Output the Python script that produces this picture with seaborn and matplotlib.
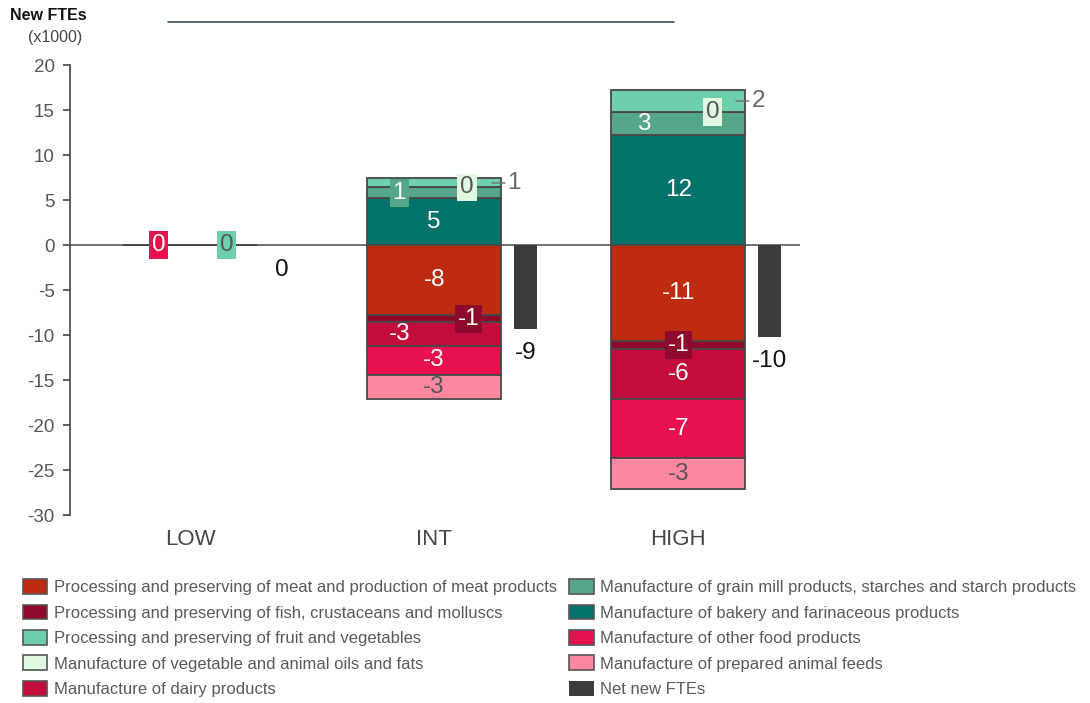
import matplotlib
matplotlib.use("Agg")
import matplotlib.pyplot as plt
import seaborn as sns
from matplotlib.lines import Line2D
from matplotlib.patches import Patch

# data (x1000 FTEs)
categories = ["LOW", "INT", "HIGH"]
meat = [0, -7.8, -10.7]
fish = [0, -0.8, -0.8]
fruit_veg = [0, 1.0, 2.4]
veg_oils = [0, 0.0, 0.0]
dairy = [0, -2.6, -5.6]
grain_mill = [0, 1.2, 2.6]
bakery = [0, 5.2, 12.2]
other_food = [0, -3.2, -6.6]
animal_feeds = [0, -2.7, -3.4]
net_new = [0, -9.3, -10.2]

series = {
    "meat": ("Processing and preserving of meat and production of meat products", meat, "#bd2c10"),
    "fish": ("Processing and preserving of fish, crustaceans and molluscs", fish, "#8e0a2c"),
    "fruit": ("Processing and preserving of fruit and vegetables", fruit_veg, "#6dcfad"),
    "oils": ("Manufacture of vegetable and animal oils and fats", veg_oils, "#e1f8e3"),
    "dairy": ("Manufacture of dairy products", dairy, "#c20c3c"),
    "grain": ("Manufacture of grain mill products, starches and starch products", grain_mill, "#56a68a"),
    "bakery": ("Manufacture of bakery and farinaceous products", bakery, "#02736b"),
    "other": ("Manufacture of other food products", other_food, "#e8104f"),
    "feeds": ("Manufacture of prepared animal feeds", animal_feeds, "#ff87a0"),
}
legend_order = ["meat", "fish", "fruit", "oils", "dairy", "grain", "bakery", "other", "feeds"]
stack_order = ["bakery", "grain", "oils", "fruit", "meat", "fish", "dairy", "other", "feeds"]
light = {"fruit", "oils", "feeds"}
net_color = "#3c3c3c"
edge = "#474747"

# (series, category index, mode, x offset)
labels = [
    ("other", 0, "box", -0.13), ("fruit", 0, "box", 0.15),
    ("bakery", 1, "in", 0), ("grain", 1, "box", -0.143), ("oils", 1, "box", 0.135),
    ("fruit", 1, "out", 0), ("meat", 1, "in", 0), ("fish", 1, "box", 0.14),
    ("dairy", 1, "in", -0.143), ("other", 1, "in", 0), ("feeds", 1, "in", 0),
    ("bakery", 2, "in", 0), ("grain", 2, "in", -0.14), ("oils", 2, "box", 0.14),
    ("fruit", 2, "out", 0), ("meat", 2, "in", 0), ("fish", 2, "box", 0),
    ("dairy", 2, "in", 0), ("other", 2, "in", 0), ("feeds", 2, "in", 0),
]

sns.set_style("white")
plt.rcParams["font.family"] = ["Liberation Sans", "DejaVu Sans"]
plt.rcParams["axes.unicode_minus"] = False

fig = plt.figure(figsize=(10.9, 7.03), dpi=100)
ax = fig.add_axes([0.0642, 0.2674, 0.6700, 0.6401])

x = list(range(len(categories)))
bar_w = 0.55
net_off, net_w = 0.375, 0.094
lab_fs = 17.5

pos_bottom = [0.0] * len(x)
neg_bottom = [0.0] * len(x)
mids = {}
for key in stack_order:
    name, vals, col = series[key]
    bottoms = []
    for i, v in enumerate(vals):
        if v >= 0:
            bottoms.append(pos_bottom[i])
            pos_bottom[i] += v
        else:
            bottoms.append(neg_bottom[i])
            neg_bottom[i] += v
    ax.bar(x, vals, bottom=bottoms, width=bar_w, color=col,
           edgecolor=edge, linewidth=1.3, zorder=3)
    mids[key] = [b + v / 2 for b, v in zip(bottoms, vals)]

ax.bar([i + net_off for i in x], net_new, width=net_w, color=net_color,
       linewidth=0, zorder=3)

ax.axhline(0, color="#4a4a4a", linewidth=1.1, zorder=2)

for key, i, mode, dx in labels:
    name, vals, col = series[key]
    txt = f"{round(vals[i]):d}"
    y = mids[key][i]
    tc = "#555555" if key in light else "white"
    if mode == "in":
        ax.text(i + dx, y, txt, ha="center", va="center", fontsize=lab_fs,
                color=tc, zorder=5)
    elif mode == "box":
        ax.text(i + dx, y, txt, ha="center", va="center", fontsize=lab_fs,
                color=tc, zorder=6,
                bbox=dict(boxstyle="square,pad=0.12", facecolor=col, edgecolor="none"))
    else:
        xr = i + bar_w / 2
        ax.plot([xr - 0.04, xr + 0.015], [y, y], color="#777777", lw=1.1, zorder=6,
                clip_on=False)
        ax.text(xr + 0.025, y, txt, ha="left", va="center", fontsize=lab_fs,
                color="#666666", zorder=6)

for i, v in enumerate(net_new):
    ax.text(i + net_off, min(v, 0) - 1.5, f"{round(v):d}", ha="center", va="top",
            fontsize=lab_fs, color="#111111")

ax.set_xlim(-0.492, 2.5)
ax.set_ylim(-30, 20)
ax.set_yticks(range(-30, 21, 5))
ax.set_xticks(x)
ax.set_xticklabels(categories)
ax.tick_params(axis="y", which="both", left=True, length=5, width=1.2, color="#444444",
               labelsize=13.5, labelcolor="#555555", pad=6)
ax.tick_params(axis="x", length=0, labelsize=16, labelcolor="#444444", pad=10)
for s in ["top", "right", "bottom"]:
    ax.spines[s].set_visible(False)
ax.spines["left"].set_color("#444444")
ax.spines["left"].set_linewidth(1.2)
ax.grid(False)

fig.text(0.009, 0.978, "New FTEs", fontsize=11.5, fontweight="bold", color="#111111",
         ha="left", va="center")
fig.text(0.026, 0.946, "(x1000)", fontsize=11.5, color="#444444", ha="left", va="center")
fig.add_artist(Line2D([168 / 1090, 674 / 1090], [1 - 22 / 703, 1 - 22 / 703],
                      color="#2e3d4e", linewidth=1.1))

handles = [Patch(facecolor=series[k][2], edgecolor="#555555", linewidth=1.2)
           for k in legend_order]
handles.append(Patch(facecolor=net_color, edgecolor="none"))
names = [series[k][0] for k in legend_order] + ["Net new FTEs"]
fig.legend(handles, names, loc="upper left", bbox_to_anchor=(0.021, 0.176), ncol=2,
           frameon=False, fontsize=12, labelcolor="#595959", handlelength=1.45,
           handleheight=0.98, handletextpad=0.4, labelspacing=0.56, columnspacing=0.75,
           borderpad=0, borderaxespad=0)

fig.savefig("out.png", dpi=100)
